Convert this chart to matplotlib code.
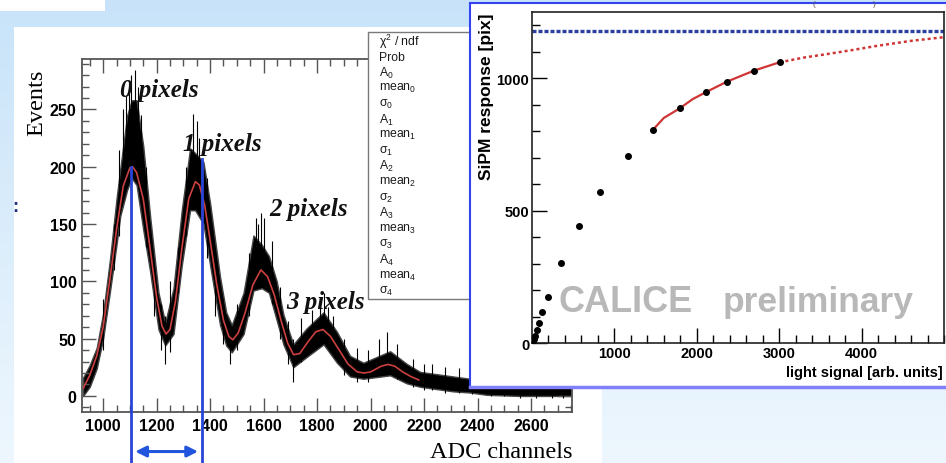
import numpy as np
import matplotlib
matplotlib.use('Agg')
import matplotlib.pyplot as plt
from matplotlib.patches import Rectangle
from matplotlib.lines import Line2D
from matplotlib.ticker import MultipleLocator, FixedLocator
from matplotlib.colors import LinearSegmentedColormap

plt.rcParams['font.family'] = ['Liberation Sans', 'DejaVu Sans']
plt.rcParams['mathtext.fontset'] = 'custom'
plt.rcParams['mathtext.rm'] = 'Liberation Sans'
plt.rcParams['mathtext.it'] = 'Liberation Sans:italic'
plt.rcParams['mathtext.bf'] = 'Liberation Sans:bold'

# ---------------- left panel data (ADC spectrum) ----------------
hist_x = [925, 950, 976, 1000, 1026, 1050, 1064, 1090, 1107, 1125, 1150, 1176, 1207, 1232,
          1263, 1294, 1325, 1344, 1375, 1400, 1437, 1460, 1481, 1525, 1562, 1593, 1620,
          1649, 1674, 1711, 1761, 1824, 1874, 1923, 1973, 2073, 2135, 2185, 2247, 2309,
          2372, 2434, 2559, 2682, 2750]
hist_lo = [0, 8, 24, 50, 92, 132, 157, 180, 190, 184, 145, 108, 58, 44,
           54, 114, 162, 162, 150, 114, 62, 44, 38, 54, 92, 94, 90,
           66, 45, 25, 34, 45, 29, 17, 15, 18, 11, 8, 6, 4,
           3, 1, 0, 0, 0]
hist_hi = [16, 27, 42, 72, 120, 172, 198, 245, 258, 258, 218, 156, 90, 64,
           94, 162, 216, 212, 204, 168, 104, 73, 62, 90, 140, 132, 122,
           100, 71, 45, 59, 73, 56, 35, 29, 39, 28, 21, 19, 17,
           15, 12, 9, 8, 8]
spike_x = [1000, 1040, 1060, 1075, 1085, 1095, 1103, 1118, 1130, 1140, 1160, 1190, 1215,
           1232, 1250, 1280, 1310, 1335, 1350, 1360, 1390, 1420, 1450, 1475, 1500, 1545,
           1570, 1580, 1590, 1600, 1630, 1660, 1690, 1711, 1740, 1780, 1812, 1826, 1840,
           1860, 1900, 1950, 1990, 2030, 2060, 2100, 2160, 2200, 2230, 2280, 2330, 2380,
           2450, 2500, 2560, 2620, 2680, 2720]
spike_lo = [40, 110, 140, 170, 200, 205, 210, 205, 200, 170, 130, 70, 40,
            28, 38, 90, 140, 180, 180, 170, 120, 70, 45, 28, 40, 70,
            100, 110, 110, 110, 80, 50, 28, 12, 30, 40, 50, 50, 50,
            40, 18, 12, 12, 18, 20, 15, 8, 5, 5, 3, 3, 2,
            0, 0, -2, -2, -2, -2]
spike_hi = [85, 150, 215, 250, 262, 275, 280, 284, 270, 245, 200, 115, 80,
            70, 100, 130, 200, 246, 240, 225, 190, 125, 85, 60, 80, 125,
            155, 150, 160, 155, 135, 95, 65, 50, 68, 75, 80, 90, 78,
            70, 50, 42, 40, 50, 56, 45, 32, 28, 28, 25, 24, 22,
            18, 17, 15, 14, 13, 12]
fit_x = [926, 950, 976, 1000, 1026, 1050, 1075, 1100, 1110, 1125, 1150, 1176, 1200, 1220,
         1235, 1250, 1270, 1295, 1320, 1345, 1360, 1380, 1400, 1425, 1450, 1470, 1485,
         1505, 1530, 1560, 1590, 1615, 1640, 1665, 1690, 1712, 1735, 1765, 1795, 1822,
         1850, 1880, 1915, 1950, 1975, 2000, 2040, 2065, 2090, 2120, 2150, 2180]
fit_y = [7, 18, 35, 60, 103, 145, 183, 199, 200, 195, 172, 128, 86, 61,
         54, 58, 82, 130, 172, 187, 184, 166, 136, 97, 66, 52, 49,
         55, 72, 97, 110, 104, 88, 66, 46, 36, 37, 47, 56, 58,
         52, 41, 28, 21, 20, 21, 26, 27.5, 26, 21, 17, 14]
peak_labels = ['0 pixels', '1 pixels', '2 pixels', '3 pixels']
peak_lab_x = [1062, 1297, 1622, 1686]
peak_lab_y = [262, 215, 158, 77]
marker_x = [1105, 1369]
marker_top = [200, 207]
xticks_left = [1000, 1200, 1400, 1600, 1800, 2000, 2200, 2400, 2600]
yticks_left = [0, 50, 100, 150, 200, 250]
stats_lines = ['χ$^2$ / ndf', 'Prob', 'A$_0$', 'mean$_0$', 'σ$_0$', 'A$_1$', 'mean$_1$', 'σ$_1$',
               'A$_2$', 'mean$_2$', 'σ$_2$', 'A$_3$', 'mean$_3$', 'σ$_3$', 'A$_4$', 'mean$_4$', 'σ$_4$']

# ---------------- right panel data (SiPM response) ----------------
light = [5, 12, 22, 39, 58, 87, 127, 192, 358, 568, 822, 1161, 1464, 1792, 2115, 2366, 2697, 3004]
resp = [3, 8, 14, 27, 48, 75, 118, 172, 302, 440, 570, 707, 804, 886, 948, 987, 1029, 1060]
fit_solid_x = [1464, 1600, 1792, 1950, 2115, 2366, 2697, 3004]
fit_solid_y = [804, 850, 886, 921, 948, 987, 1029, 1060]
fit_dot_x = [3004, 3300, 3578, 3900, 4184, 4600, 5000]
fit_dot_y = [1060, 1078, 1091, 1107, 1122, 1141, 1155]
saturation = 1180
xticks_right = [1000, 2000, 3000, 4000]
yticks_right = [0, 500, 1000]

W, H = 946, 464
fig = plt.figure(figsize=(W / 100, H / 100), dpi=100)


def fx(px):
    return px / W


def fy(py):
    return 1 - py / H


# background gradient
bg = fig.add_axes([0, 0, 1, 1], zorder=-10)
cmap = LinearSegmentedColormap.from_list('bg', ['#c8e3f9', '#eef7fe'])
bg.imshow(np.linspace(0, 1, 256).reshape(-1, 1), aspect='auto', cmap=cmap,
          extent=[0, 1, 0, 1], origin='upper')
bg.set_axis_off()

fig.add_artist(Rectangle((0, fy(12)), fx(105), 12 / H, transform=fig.transFigure,
                         facecolor='white', edgecolor='none', zorder=-5))
fig.add_artist(Rectangle((fx(14), 0), fx(602) - fx(14), fy(28), transform=fig.transFigure,
                         facecolor='white', edgecolor='none', zorder=-5))
fig.text(fx(15), fy(208), ':', color='#1a2a80', fontsize=13, fontweight='bold',
         ha='center', va='center', zorder=-4)

# ---------------- left axes ----------------
ax = fig.add_axes([fx(82), fy(413), (572 - 82) / W, (413 - 60) / H], zorder=1)
ax.set_xlim(921, 2753)
ax.set_ylim(-14, 294)
ax.fill_between(hist_x, hist_lo, hist_hi, color='black', lw=1.0, edgecolor='#444444')
ax.vlines(spike_x, spike_lo, spike_hi, color='black', lw=0.8)
ax.plot(fit_x, fit_y, color='#cc4040', lw=1.2)
for mx, mt in zip(marker_x, marker_top):
    ax.plot([mx, mx], [mt, -60], color='#2a44d8', lw=2, clip_on=False, zorder=5)
ax.annotate('', xy=(1120, -48.5), xytext=(1355, -48.5),
            arrowprops=dict(arrowstyle='<|-|>', color='#2255dd', lw=2.2, mutation_scale=16,
                            shrinkA=0, shrinkB=0),
            annotation_clip=False)
for lab, lx, ly in zip(peak_labels, peak_lab_x, peak_lab_y):
    ax.text(lx, ly, lab, family='Liberation Serif', fontweight='bold', fontstyle='italic',
            fontsize=18, va='baseline', ha='left', color='#111111', zorder=6)
ax.set_xticks(xticks_left)
ax.set_xticklabels([str(v) for v in xticks_left], fontweight='bold', fontsize=11.5)
ax.set_yticks(yticks_left)
ax.set_yticklabels([str(v) for v in yticks_left], fontweight='bold', fontsize=11.5)
ax.xaxis.set_minor_locator(MultipleLocator(50))
ax.yaxis.set_minor_locator(MultipleLocator(10))
ax.tick_params(which='both', direction='in', top=True, right=True, color='#555555', width=1)
ax.tick_params(which='major', length=10, pad=4)
ax.tick_params(which='minor', length=5)
for s in ax.spines.values():
    s.set_color('#555555')
    s.set_linewidth(1.3)

fig.text(fx(37), fy(103), 'Events', rotation=90, family='Liberation Serif', fontsize=17.5,
         ha='center', va='center')
fig.text(fx(573), fy(458), 'ADC channels', family='Liberation Serif', fontsize=17.5,
         ha='right', va='baseline')

# stats box
fig.add_artist(Rectangle((fx(368), fy(300)), fx(480) - fx(368), (300 - 33) / H,
                         transform=fig.transFigure, facecolor='white', edgecolor='#7a7a7a',
                         lw=1, zorder=2))
for i, s in enumerate(stats_lines):
    fig.text(fx(379), fy(42 + i * 15.6), s, fontsize=8.8, color='#1a1a1a', ha='left',
             va='center', zorder=2.1)

# ---------------- right panel ----------------
fig.add_artist(Rectangle((fx(470), fy(388)), 1 - fx(470) + 0.01, (388 - 4) / H,
                         transform=fig.transFigure, facecolor='white', edgecolor='none',
                         zorder=3))
fig.add_artist(Line2D([fx(470), fx(470)], [fy(4), fy(388)], transform=fig.transFigure,
                      color='#3344ee', lw=1.5, zorder=3.1))
fig.add_artist(Line2D([fx(470), 1], [fy(4), fy(4)], transform=fig.transFigure,
                      color='#3344ee', lw=1.5, zorder=3.1))
fig.add_artist(Line2D([fx(470), 1], [fy(388), fy(388)], transform=fig.transFigure,
                      color='#8080f8', lw=2.5, zorder=3.1))
fig.text(fx(814), fy(1), '(', fontsize=6, color='#555555', ha='center', va='top', zorder=3.2)
fig.text(fx(874), fy(1), ')', fontsize=6, color='#555555', ha='center', va='top', zorder=3.2)

ax2 = fig.add_axes([fx(532), fy(344), (944 - 532) / W, (344 - 13) / H], zorder=4)
ax2.set_xlim(0, 5000)
ax2.set_ylim(0, 1250)
ax2.text(321, 122, 'CALICE', color='#b8b8b8', fontsize=26, fontweight='bold',
         va='baseline', ha='left', zorder=0.5)
ax2.text(2309, 122, 'preliminary', color='#b8b8b8', fontsize=25.5, fontweight='bold',
         va='baseline', ha='left', zorder=0.5)
ax2.axhline(saturation, color='#2a3f9f', lw=2.4, linestyle=(0, (1.2, 0.6)))
ax2.plot(fit_solid_x, fit_solid_y, color='#d03535', lw=1.6)
ax2.plot(fit_dot_x, fit_dot_y, color='#d03535', lw=1.8, linestyle=(0, (1.2, 1.2)))
ax2.plot(light, resp, 'o', color='black', ms=4, zorder=5)
ax2.xaxis.set_major_locator(FixedLocator(xticks_right))
ax2.set_xticklabels([str(v) for v in xticks_right], fontweight='bold', fontsize=10.5)
ax2.yaxis.set_major_locator(FixedLocator(yticks_right))
ax2.set_yticklabels([str(v) for v in yticks_right], fontweight='bold', fontsize=10.5)
ax2.xaxis.set_minor_locator(MultipleLocator(200))
ax2.yaxis.set_minor_locator(MultipleLocator(100))
ax2.tick_params(which='both', direction='in', color='black', width=1)
ax2.tick_params(which='major', length=11, pad=2)
ax2.tick_params(which='minor', length=6)
for s in ax2.spines.values():
    s.set_color('#222222')
    s.set_linewidth(1.2)

fig.text(fx(487), fy(97), 'SiPM response [pix]', rotation=90, fontweight='bold', fontsize=12.5,
         ha='center', va='center', zorder=5)
fig.text(fx(943), fy(373), 'light signal [arb. units]', fontweight='bold', fontsize=10.5,
         ha='right', va='center', zorder=5)

fig.savefig('out.png', dpi=100)
